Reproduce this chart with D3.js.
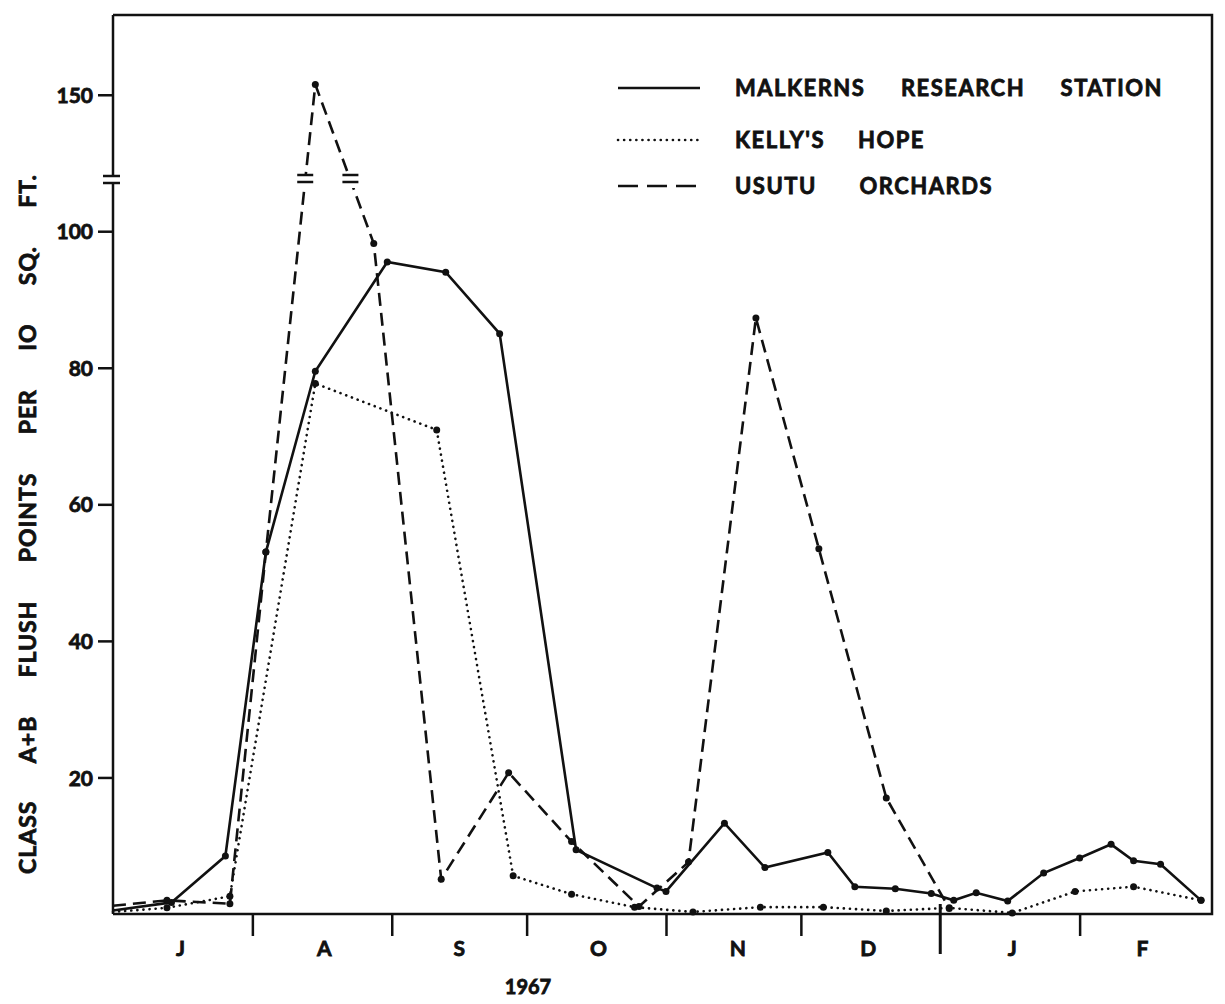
<!DOCTYPE html>
<html>
<head>
<meta charset="utf-8">
<script src="https://cdn.jsdelivr.net/npm/d3@7"></script>
<style>
  body { margin: 0; background: #fff; }
  text { font-family: Lato, "Open Sans", sans-serif; font-weight: 700; fill: #111; stroke: #111; stroke-width: 0.8px; }
</style>
</head>
<body>
<script>
// sampling dates and flush counts
var malkernsDates = ["1967-07-01","1967-07-14","1967-07-26","1967-08-04","1967-08-15","1967-08-31","1967-09-13","1967-09-25","1967-10-12","1967-10-30","1967-11-01","1967-11-14","1967-11-23","1967-12-07","1967-12-13","1967-12-22","1967-12-30","1968-01-04","1968-01-09","1968-01-16","1968-01-24","1968-02-01","1968-02-08","1968-02-13","1968-02-19","1968-02-28"];
var malkernsValues = [0.5, 1.7, 8.5, 53, 79.5, 95.5, 94, 85, 9.4, 3.8, 3.3, 13.3, 6.8, 9.0, 4.0, 3.7, 3.0, 2.0, 3.1, 1.9, 6.0, 8.2, 10.2, 7.8, 7.3, 2.0];

var kellyDates = ["1967-07-01","1967-07-13","1967-07-27","1967-08-15","1967-09-11","1967-09-28","1967-10-11","1967-10-25","1967-11-07","1967-11-22","1967-12-06","1967-12-20","1968-01-03","1968-01-17","1968-01-31","1968-02-13","1968-02-28"];
var kellyValues = [0.3, 0.9, 2.6, 77.7, 70.9, 5.6, 2.9, 1.0, 0.3, 1.0, 1.0, 0.45, 0.9, 0.15, 3.3, 4.0, 2.0];

var usutuDates = ["1967-07-01","1967-07-13","1967-07-27","1967-08-04","1967-08-15","1967-08-28","1967-09-12","1967-09-27","1967-10-11","1967-10-26","1967-11-06","1967-11-21","1967-12-05","1967-12-20","1968-01-03"];
var usutuValues = [1.2, 2.0, 1.5, 53, 151.5, 98.2, 5.1, 20.7, 10.6, 1.1, 7.6, 87.3, 53.5, 17, 0.8];

var monthLabels = ["J","A","S","O","N","D","J","F"];
var monthMids = ["1967-07-16","1967-08-17","1967-09-16","1967-10-17","1967-11-17","1967-12-16","1968-01-17","1968-02-15"];
var monthStarts = ["1967-08-01","1967-09-01","1967-10-01","1967-11-01","1967-12-01","1968-02-01"];
var yearStart = "1968-01-01";
var yTicks = [20, 40, 60, 80, 100, 150];
var seriesNames = ["MALKERNS RESEARCH STATION", "KELLY'S HOPE", "USUTU ORCHARDS"];

var parse = d3.timeParse("%Y-%m-%d");

var svg = d3.select("body").append("svg")
  .attr("width", 1225)
  .attr("height", 1004);

// x is a calendar scale, y is broken between 107.5 and 137.5
var x = d3.scaleTime()
  .domain([parse("1967-07-01"), parse("1968-03-01")])
  .range([113, 1210]);

var breakLo = 107.5, breakHi = 137.5, breakY = 180;
var y = d3.scaleLinear()
  .domain([0, breakLo, breakHi, 161.7])
  .range([914, breakY, breakY, 15]);

function toPoints(dates, values) {
  return dates.map(function(d, i) { return { date: parse(d), value: values[i] }; });
}

var series = [
  { name: seriesNames[0], data: toPoints(malkernsDates, malkernsValues), dash: null, cap: "butt" },
  { name: seriesNames[1], data: toPoints(kellyDates, kellyValues), dash: "0.1,6", cap: "round" },
  { name: seriesNames[2], data: toPoints(usutuDates, usutuValues), dash: "13,7", cap: "butt" }
];

var line = d3.line()
  .x(function(d) { return x(d.date); })
  .y(function(d) { return y(d.value); });

// frame
var x0 = x.range()[0], x1 = x.range()[1] + 2, yTop = y(161.7), yBot = y(0);
svg.append("path")
  .attr("d", "M" + x0 + "," + yTop + "H" + x1 + "V" + yBot + "H" + x0)
  .attr("fill", "none").attr("stroke", "#111").attr("stroke-width", 2.5);
// left axis line with break
svg.append("line").attr("x1", x0).attr("x2", x0).attr("y1", yTop).attr("y2", breakY - 4)
  .attr("stroke", "#111").attr("stroke-width", 2.5);
svg.append("line").attr("x1", x0).attr("x2", x0).attr("y1", breakY + 3).attr("y2", yBot)
  .attr("stroke", "#111").attr("stroke-width", 2.5);
[breakY - 4, breakY + 3].forEach(function(by) {
  svg.append("line").attr("x1", x0 - 10).attr("x2", x0 + 7).attr("y1", by).attr("y2", by)
    .attr("stroke", "#111").attr("stroke-width", 2.5);
});

// y axis ticks and labels
var yAxis = d3.axisLeft(y).tickValues(yTicks).tickSize(15).tickPadding(5);
var gy = svg.append("g").attr("transform", "translate(" + x0 + ",0)").call(yAxis);
gy.select(".domain").remove();
gy.selectAll(".tick line").attr("stroke", "#111").attr("stroke-width", 2.5);
gy.selectAll(".tick text").style("font-size", "21px").style("font-family", "Lato, sans-serif")
  .style("font-weight", 700).attr("fill", "#111").attr("dy", "0.36em");

// x axis ticks at month boundaries
var xAxis = d3.axisBottom(x).tickValues(monthStarts.map(parse)).tickSize(22).tickFormat("");
var gx = svg.append("g").attr("transform", "translate(0," + yBot + ")").call(xAxis);
gx.select(".domain").remove();
gx.selectAll(".tick line").attr("stroke", "#111").attr("stroke-width", 2.5);
svg.append("line")
  .attr("x1", x(parse(yearStart))).attr("x2", x(parse(yearStart)))
  .attr("y1", yBot - 10).attr("y2", yBot + 40)
  .attr("stroke", "#111").attr("stroke-width", 3);

svg.selectAll(".month").data(monthLabels).enter().append("text")
  .attr("class", "month")
  .attr("x", function(d, i) { return x(parse(monthMids[i])); })
  .attr("y", 956)
  .attr("text-anchor", "middle")
  .style("font-size", "21px")
  .text(function(d) { return d; });

svg.append("text").attr("x", 528).attr("y", 994).attr("text-anchor", "middle")
  .style("font-size", "20px").text("1967");

// y title, word spacing stretched to fit the span of the original
function fitWords(sel, target) {
  var len = sel.node().getComputedTextLength();
  var gaps = sel.text().split(" ").length - 1;
  sel.style("word-spacing", ((target - len) / gaps) + "px");
}
var title = svg.append("text")
  .attr("transform", "translate(36,524) rotate(-90)")
  .attr("text-anchor", "middle")
  .style("font-size", "23px")
  .style("letter-spacing", "1px")
  .text("CLASS A+B FLUSH POINTS PER IO SQ. FT.");
fitWords(title, 700);

// series lines
series.forEach(function(s) {
  svg.append("path")
    .datum(s.data)
    .attr("d", line)
    .attr("fill", "none")
    .attr("stroke", "#111")
    .attr("stroke-width", 2.6)
    .attr("stroke-linecap", s.cap)
    .attr("stroke-dasharray", s.dash);
  svg.append("g").selectAll("circle")
    .data(s.data.slice(1))
    .enter().append("circle")
    .attr("cx", function(d) { return x(d.date); })
    .attr("cy", function(d) { return y(d.value); })
    .attr("r", 3.5)
    .attr("fill", "#111");
});

// break marks where the usutu line passes the axis break
var ud = series[2].data;
for (var i = 1; i < ud.length; i++) {
  var a = ud[i - 1], b = ud[i];
  if ((a.value > breakHi) !== (b.value > breakHi)) {
    var ya = y(a.value), yb = y(b.value), xa = x(a.date), xb = x(b.date);
    var t = (breakY - ya) / (yb - ya);
    var bx = xa + t * (xb - xa);
    svg.append("rect").attr("x", bx - 12).attr("y", breakY - 5).attr("width", 24).attr("height", 13).attr("fill", "#fff");
    [breakY - 5, breakY + 2].forEach(function(by) {
      svg.append("line").attr("x1", bx - 8).attr("x2", bx + 8).attr("y1", by).attr("y2", by)
        .attr("stroke", "#111").attr("stroke-width", 2.5);
    });
  }
}

// legend
var legendY = [88, 140, 186];
var legendW = [428, 190, 258];
series.forEach(function(s, i) {
  svg.append("line")
    .attr("x1", 618).attr("x2", i === 2 ? 696 : 700)
    .attr("y1", legendY[i]).attr("y2", legendY[i])
    .attr("stroke", "#111").attr("stroke-width", 2.6)
    .attr("stroke-linecap", s.cap)
    .attr("stroke-dasharray", i === 2 ? "20,9" : s.dash);
  var t = svg.append("text")
    .attr("x", 735).attr("y", legendY[i] + 8)
    .style("font-size", "22px")
    .style("letter-spacing", "1.5px")
    .text(s.name);
  fitWords(t, legendW[i]);
});
</script>
</body>
</html>
